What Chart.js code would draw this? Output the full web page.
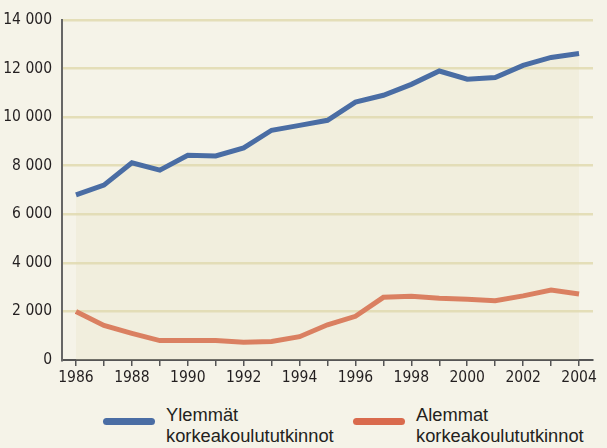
<!DOCTYPE html>
<html>
<head>
<meta charset="utf-8">
<script src="https://cdn.jsdelivr.net/npm/chart.js@4"></script>
<style>
  html, body { margin: 0; padding: 0; background: #f5f3e8; }
  #wrap { position: relative; width: 607px; height: 448px; }
  #chart-box { position: absolute; left: 0; top: 0; width: 607px; height: 393px; }
  .legend-item { position: absolute; top: 0; font-family: 'Liberation Sans', Arial, sans-serif; font-size: 18.3px; line-height: 21px; color: #231f20; }
  .legend-swatch { position: absolute; width: 52px; height: 7px; border-radius: 4px; }
</style>
</head>
<body>
<div id="wrap">
  <div id="chart-box"><canvas id="chart-degrees"></canvas></div>
  <div class="legend-swatch" style="left:103px; top:418px; background:#4a6da4;"></div>
  <div class="legend-item" style="left:166px; top:404px;">Ylemmät<br>korkeakoulututkinnot</div>
  <div class="legend-swatch" style="left:353px; top:418px; background:#d96a4d;"></div>
  <div class="legend-item" style="left:416px; top:404px;">Alemmat<br>korkeakoulututkinnot</div>
</div>
<script>
const years = ['1986', '1987', '1988', '1989', '1990', '1991', '1992', '1993', '1994', '1995',
  '1996', '1997', '1998', '1999', '2000', '2001', '2002', '2003', '2004'];
const higherDegrees = [6800, 7200, 8120, 7820, 8430, 8400, 8730, 9460, 9660, 9870,
  10620, 10900, 11350, 11900, 11560, 11630, 12130, 12460, 12620];
const lowerDegrees = [2000, 1420, 1100, 800, 800, 800, 730, 760, 960, 1450,
  1800, 2580, 2620, 2540, 2500, 2440, 2640, 2880, 2720];
const yTicks = [0, 2000, 4000, 6000, 8000, 10000, 12000, 14000];

// condensed face for axis numbers, close to the original print style
const tickFont = { family: "'DejaVu Sans Condensed', 'Liberation Sans Narrow', sans-serif", size: 15.5 };

new Chart(document.getElementById('chart-degrees').getContext('2d'), {
  type: 'line',
  data: {
    labels: years,
    datasets: [
      {
        label: 'Ylemmät korkeakoulututkinnot',
        data: higherDegrees,
        borderColor: '#4a6da4',
        borderWidth: 5,
        pointRadius: 0,
        tension: 0,
        fill: 'origin',
        backgroundColor: 'rgba(226,220,180,0.2)',
      },
      {
        label: 'Alemmat korkeakoulututkinnot',
        data: lowerDegrees,
        borderColor: '#d96a4d',
        borderWidth: 5,
        pointRadius: 0,
        tension: 0,
        fill: false,
      },
    ],
  },
  options: {
    responsive: true,
    maintainAspectRatio: false,
    animation: false,
    layout: { padding: { top: 20, right: 14, left: 0, bottom: 0 } },
    plugins: {
      legend: { display: false },
      tooltip: { enabled: false },
    },
    scales: {
      x: {
        type: 'category',
        offset: true,
        border: { display: true, color: '#555', width: 2 },
        grid: { offset: false, drawOnChartArea: false, color: '#555', lineWidth: 1.5, tickLength: 6 },
        ticks: {
          autoSkip: false,
          maxRotation: 0,
          padding: 3,
          color: '#231f20',
          font: tickFont,
          callback: (value, index) => (index % 2 === 0 ? years[index] : ''),
        },
        afterFit: scale => { scale.height = 33; },
      },
      y: {
        min: 0,
        max: 14000,
        border: { display: true, color: '#666', width: 2 },
        grid: {
          drawTicks: false,
          lineWidth: 2.5,
          color: context => (context.tick.value === 0 ? 'rgba(0,0,0,0)' : '#e4deb8'),
        },
        afterBuildTicks: scale => { scale.ticks = yTicks.map(value => ({ value })); },
        ticks: {
          padding: 10,
          color: '#231f20',
          font: tickFont,
          callback: value => String(value).replace(/\B(?=(\d{3})+(?!\d))/g, ' '),
        },
        afterFit: scale => { scale.width = 62; },
      },
    },
  },
});
</script>
</body>
</html>
